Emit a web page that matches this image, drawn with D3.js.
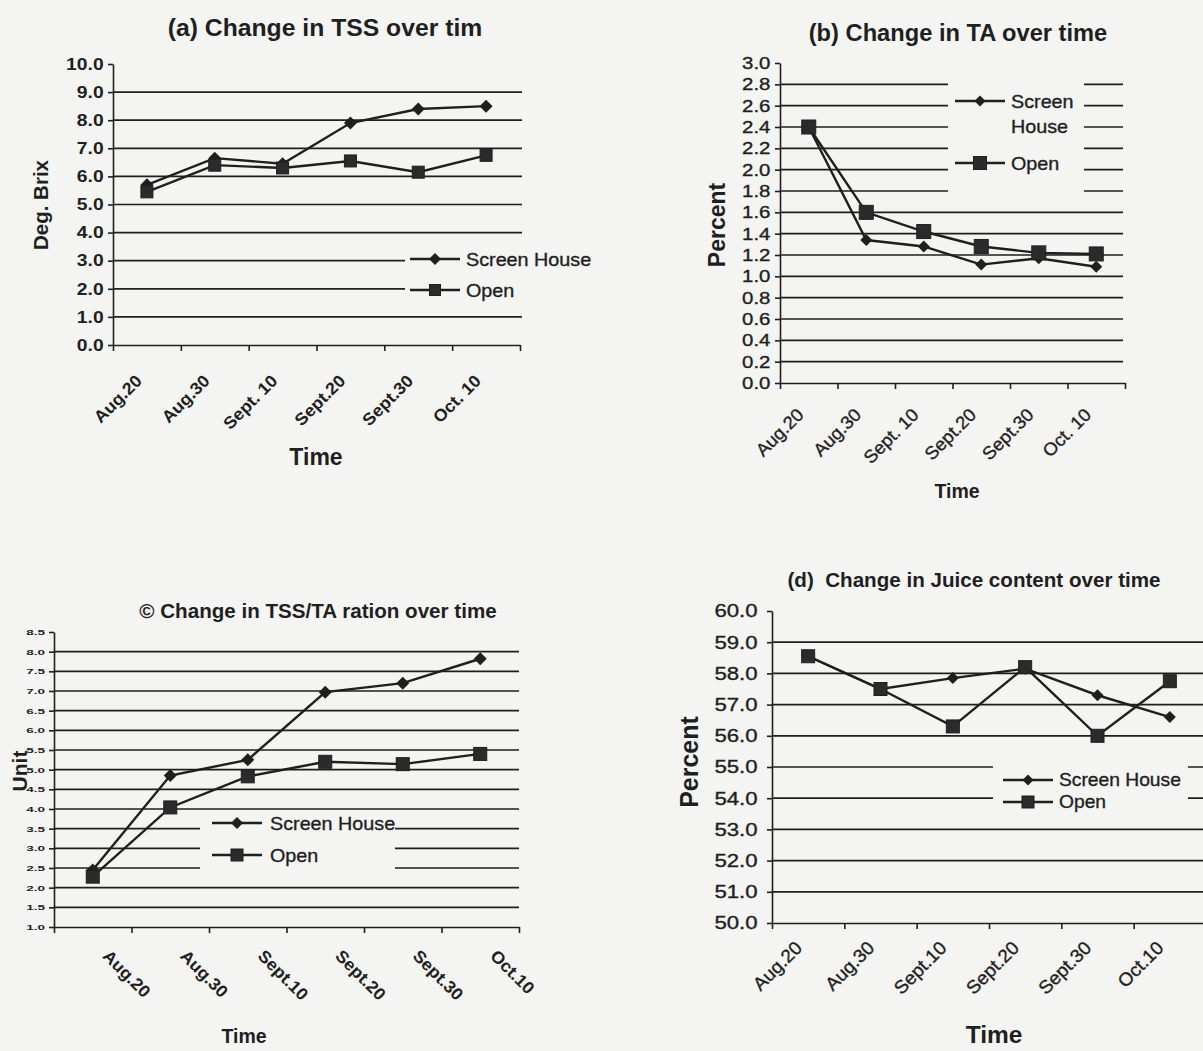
<!DOCTYPE html>
<html>
<head>
<meta charset="utf-8">
<script src="https://cdn.jsdelivr.net/npm/d3@7"></script>
<style>
	body { margin: 0; background: #f4f4f2; }
	svg { display: block; font-family: "Liberation Sans", Arial, sans-serif; }
</style>
</head>
<body>
<svg id="chart" width="1203" height="1051"></svg>
<script>
// sampling dates, same for all four panels
const dates = ["Aug.20", "Aug.30", "Sept.10", "Sept.20", "Sept.30", "Oct.10"];
const datesSpaced = ["Aug.20", "Aug.30", "Sept. 10", "Sept.20", "Sept.30", "Oct. 10"];

// y tick values
const ticksA = [0, 1, 2, 3, 4, 5, 6, 7, 8, 9, 10];
const ticksB = [0, 0.2, 0.4, 0.6, 0.8, 1.0, 1.2, 1.4, 1.6, 1.8, 2.0, 2.2, 2.4, 2.6, 2.8, 3.0];
const ticksC = [1.0, 1.5, 2.0, 2.5, 3.0, 3.5, 4.0, 4.5, 5.0, 5.5, 6.0, 6.5, 7.0, 7.5, 8.0, 8.5];
const ticksD = [50, 51, 52, 53, 54, 55, 56, 57, 58, 59, 60];

// (a) TSS, deg. Brix
const tssScreen = [5.7, 6.65, 6.45, 7.9, 8.4, 8.5];
const tssOpen = [5.45, 6.4, 6.3, 6.55, 6.15, 6.75];
// (b) TA, percent
const taScreen = [2.4, 1.34, 1.28, 1.11, 1.17, 1.09];
const taOpen = [2.4, 1.6, 1.42, 1.28, 1.22, 1.21];
// (c) TSS/TA ratio
const ratioScreen = [2.45, 4.85, 5.25, 6.97, 7.2, 7.82];
const ratioOpen = [2.28, 4.04, 4.83, 5.2, 5.14, 5.4];
// (d) juice content, percent
const juiceScreen = [58.55, 57.5, 57.85, 58.15, 57.3, 56.6];
const juiceOpen = [58.55, 57.5, 56.3, 58.2, 56.0, 57.75];

const ink = "#1f1f1f";
const paper = "#f4f4f2";

const svg = d3.select("#chart");

// widen: the scanned digits are a bit wider than Arial
function put(g, s, x, y, o) {
	const t = g.append("text")
		.text(s)
		.attr("transform", `translate(${x},${y}) rotate(${o.rotate || 0}) scale(${o.widen || 1},1)`)
		.attr("text-anchor", o.anchor || "middle")
		.attr("font-size", o.size)
		.attr("font-weight", o.weight || "normal")
		.style("white-space", "pre")
		.attr("fill", ink);
	// scanned ink runs a little, thicken the plain text
	if (!o.weight || o.weight === "normal") t.attr("stroke", ink).attr("stroke-width", 0.35);
	return t;
}

function marker(g, shape, x, y, size) {
	if (shape === "square") {
		g.append("rect")
			.attr("x", x - size / 2).attr("y", y - size / 2)
			.attr("width", size).attr("height", size)
			.attr("fill", "#2b2b2b").attr("stroke", ink).attr("stroke-width", 1);
	} else {
		g.append("path")
			.attr("d", d3.symbol(d3.symbolSquare, size * size / 2)())
			.attr("transform", `translate(${x},${y}) rotate(45)`)
			.attr("fill", ink);
	}
}

function drawPanel(p) {
	const g = svg.append("g");
	const x = d3.scaleBand().domain(dates).range([p.x0, p.x1]);
	const xEdge = d3.scaleLinear().domain([0, dates.length]).range([p.x0, p.x1]);
	const y = d3.scaleLinear().domain(d3.extent(p.ticks)).range([p.yBot, p.yTop]);
	const cx = (i) => x(dates[i]) + x.bandwidth() / 2;

	// grid lines
	g.append("g").selectAll("line")
		.data(p.ticks.slice(1, -1))
		.join("line")
		.attr("x1", p.x0).attr("x2", p.gridEnd)
		.attr("y1", (d) => y(d)).attr("y2", (d) => y(d))
		.attr("stroke", ink).attr("stroke-width", 1.7);

	// legend box hides the grid behind it
	const lg = p.legend;
	g.append("rect")
		.attr("x", lg.box[0]).attr("y", lg.box[1])
		.attr("width", lg.box[2]).attr("height", lg.box[3])
		.attr("fill", paper);

	const ya = g.append("g")
		.attr("transform", `translate(${p.x0},0)`)
		.call(d3.axisLeft(y).tickValues(p.ticks).tickFormat(d3.format(".1f"))
			.tickSize(5).tickSizeOuter(0).tickPadding(p.tickPad));
	ya.selectAll(".domain, .tick line").attr("stroke", ink).attr("stroke-width", 1.6);
	ya.selectAll(".tick text")
		.attr("fill", ink)
		.attr("font-size", p.tickFont.size)
		.attr("font-weight", p.tickFont.weight)
		.attr("stroke", p.tickFont.weight === "normal" ? ink : null)
		.attr("stroke-width", 0.35)
		.attr("transform", `scale(${p.tickFont.widen},1)`);

	const xa = g.append("g")
		.attr("transform", `translate(0,${p.yBot})`)
		.call(d3.axisBottom(xEdge).tickValues(d3.range(dates.length + 1)).tickFormat("")
			.tickSize(6).tickSizeOuter(0));
	xa.selectAll(".domain, .tick line").attr("stroke", ink).attr("stroke-width", 1.6);

	p.labels.forEach((s, i) => {
		put(g, s, cx(i) + p.lab.dx, p.yBot + p.lab.dy, p.lab);
	});

	// series
	const line = d3.line().x((d, i) => cx(i)).y((d) => y(d));
	p.series.forEach((s) => {
		g.append("path").datum(s.values)
			.attr("d", line)
			.attr("fill", "none")
			.attr("stroke", ink)
			.attr("stroke-width", 2.4);
	});
	p.series.forEach((s) => {
		s.values.forEach((v, i) => marker(g, s.shape, cx(i), y(v), s.shape === "square" ? p.sq : p.di));
	});

	// legend
	lg.rows.forEach((r, k) => {
		const s = p.series[k];
		g.append("line")
			.attr("x1", lg.x1).attr("x2", lg.x2).attr("y1", r.y).attr("y2", r.y)
			.attr("stroke", ink).attr("stroke-width", 2.4);
		marker(g, s.shape, (lg.x1 + lg.x2) / 2, r.y, s.shape === "square" ? p.sq - 1 : p.di - 1);
		r.text.forEach((t, j) => {
			put(g, t, lg.tx, r.y + j * 25, { size: lg.size, anchor: "start", widen: 1.04 }).attr("dy", "0.35em");
		});
	});

	put(g, p.title, p.titleAt[0], p.titleAt[1], { size: p.titleSize, weight: "bold", widen: 1.03 });
	put(g, p.yTitle, p.yTitleAt[0], p.yTitleAt[1], { size: p.yTitleSize, weight: "bold", rotate: -90 });
	put(g, "Time", p.xTitleAt[0], p.xTitleAt[1], { size: p.xTitleSize, weight: "bold" });
}

drawPanel({
	title: "(a) Change in TSS over tim", titleAt: [325, 36], titleSize: 24,
	x0: 113, x1: 520, yTop: 64, yBot: 345, gridEnd: 522,
	ticks: ticksA, tickPad: 3, tickFont: { size: 16.5, weight: "bold", widen: 1.17 },
	labels: datesSpaced,
	lab: { dx: -4, dy: 37, rotate: -45, anchor: "end", size: 17, weight: "bold", widen: 1.05 },
	yTitle: "Deg. Brix", yTitleAt: [48, 205], yTitleSize: 20.5,
	xTitleAt: [316, 465], xTitleSize: 23,
	sq: 12, di: 13,
	series: [
		{ name: "Screen House", shape: "diamond", values: tssScreen },
		{ name: "Open", shape: "square", values: tssOpen },
	],
	legend: {
		box: [405, 244, 195, 58], x1: 410, x2: 460, tx: 466, size: 19,
		rows: [{ y: 259, text: ["Screen House"] }, { y: 290, text: ["Open"] }],
	},
});

drawPanel({
	title: "(b) Change in TA over time", titleAt: [958, 41], titleSize: 23,
	x0: 780, x1: 1125, yTop: 63, yBot: 383, gridEnd: 1123,
	ticks: ticksB, tickPad: 3, tickFont: { size: 17, weight: "normal", widen: 1.2 },
	labels: datesSpaced,
	lab: { dx: -4, dy: 33, rotate: -45, anchor: "end", size: 18, weight: "normal", widen: 1.03 },
	yTitle: "Percent", yTitleAt: [725, 225], yTitleSize: 23,
	xTitleAt: [957, 498], xTitleSize: 19.5,
	sq: 14, di: 12,
	series: [
		{ name: "Screen House", shape: "diamond", values: taScreen },
		{ name: "Open", shape: "square", values: taOpen },
	],
	legend: {
		box: [948, 78, 136, 122], x1: 955, x2: 1005, tx: 1011, size: 19,
		rows: [{ y: 101, text: ["Screen", "House"] }, { y: 163, text: ["Open"] }],
	},
});

drawPanel({
	title: "© Change in TSS/TA ration over time", titleAt: [318, 618], titleSize: 20,
	x0: 54, x1: 519, yTop: 632, yBot: 927, gridEnd: 519,
	ticks: ticksC, tickPad: 0, tickFont: { size: 7.5, weight: "bold", widen: 1.8 },
	labels: dates,
	lab: { dx: 9, dy: 30, rotate: 45, anchor: "start", size: 17, weight: "bold", widen: 1.04 },
	yTitle: "Unit", yTitleAt: [27, 771], yTitleSize: 21,
	xTitleAt: [244, 1043], xTitleSize: 19.5,
	sq: 13, di: 13,
	series: [
		{ name: "Screen House", shape: "diamond", values: ratioScreen },
		{ name: "Open", shape: "square", values: ratioOpen },
	],
	legend: {
		box: [200, 814, 195, 66], x1: 212, x2: 262, tx: 270, size: 19,
		rows: [{ y: 823, text: ["Screen House"] }, { y: 855, text: ["Open"] }],
	},
});

drawPanel({
	title: "(d)  Change in Juice content over time", titleAt: [974, 587], titleSize: 20,
	x0: 772, x1: 1206, yTop: 611, yBot: 923, gridEnd: 1203,
	ticks: ticksD, tickPad: 7, tickFont: { size: 18.5, weight: "normal", widen: 1.2 },
	labels: dates,
	lab: { dx: -5, dy: 26, rotate: -45, anchor: "end", size: 18.5, weight: "normal", widen: 1.03 },
	yTitle: "Percent", yTitleAt: [698, 762], yTitleSize: 25,
	xTitleAt: [994, 1043], xTitleSize: 24.5,
	sq: 13, di: 12,
	series: [
		{ name: "Screen House", shape: "diamond", values: juiceScreen },
		{ name: "Open", shape: "square", values: juiceOpen },
	],
	legend: {
		box: [993, 750, 195, 65], x1: 1003, x2: 1053, tx: 1059, size: 18.5,
		rows: [{ y: 780, text: ["Screen House"] }, { y: 802, text: ["Open"] }],
	},
});
</script>
</body>
</html>
